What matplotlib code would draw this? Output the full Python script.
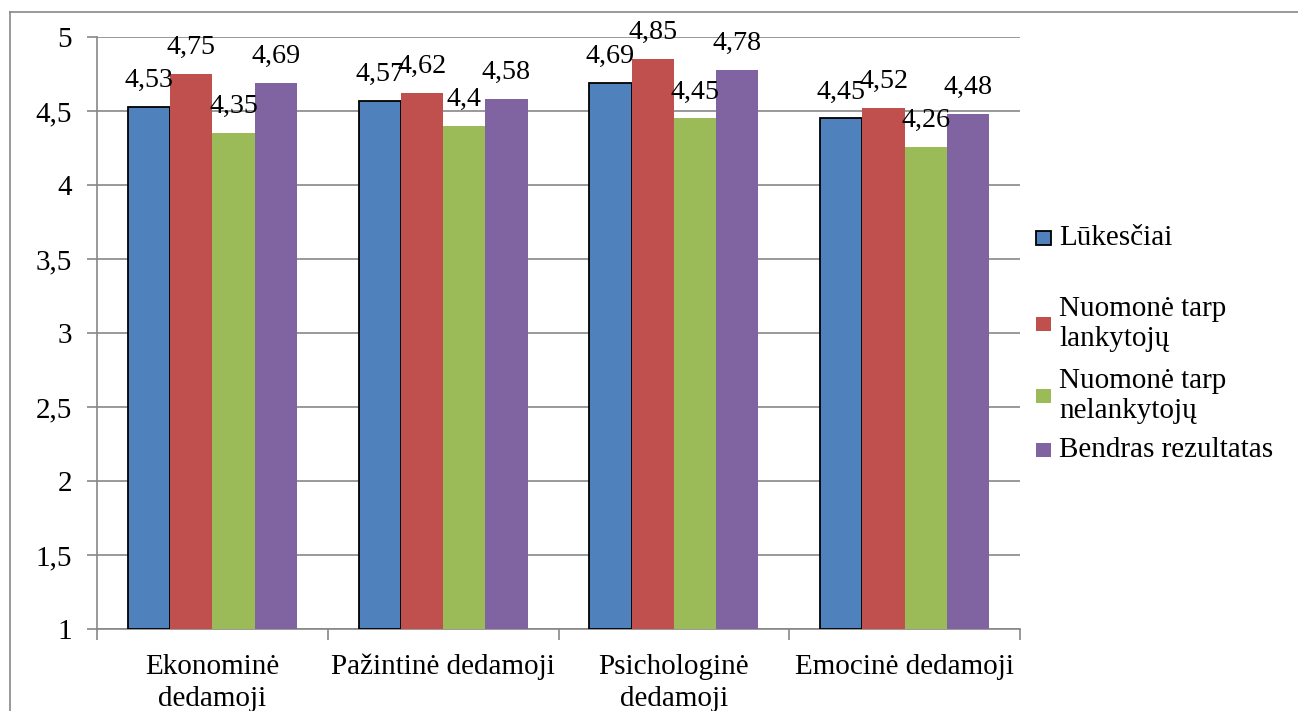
import matplotlib
matplotlib.use("Agg")
import matplotlib.pyplot as plt
from matplotlib.patches import Rectangle
from matplotlib.lines import Line2D
import numpy as np

plt.rcParams['font.family'] = ['Liberation Serif', 'DejaVu Serif']

categories = ["Ekonominė\ndedamoji", "Pažintinė dedamoji",
              "Psichologinė\ndedamoji", "Emocinė dedamoji"]
series_names = ["Lūkesčiai", "Nuomonė tarp\nlankytojų",
                "Nuomonė tarp\nnelankytojų", "Bendras rezultatas"]
lukesciai = [4.53, 4.57, 4.69, 4.45]
lankytoju = [4.75, 4.62, 4.85, 4.52]
nelankytoju = [4.35, 4.40, 4.45, 4.26]
bendras = [4.69, 4.58, 4.78, 4.48]
values = [lukesciai, lankytoju, nelankytoju, bendras]
colors = ["#4F81BD", "#C0504D", "#9BBB59", "#8064A2"]

W, H = 1298, 711
fig = plt.figure(figsize=(W / 100, H / 100), dpi=100)
ax = fig.add_axes([97 / W, 1 - 629 / H, (1020 - 97) / W, (629 - 37) / H])

fs = 21
grid_c = "#878787"
bw = 0.183
x = np.arange(len(categories))

for j, (vals, c) in enumerate(zip(values, colors)):
    pos = x + (j - 1.5) * bw
    if j == 0:
        bars = ax.bar(pos, np.array(vals) - 1, bw, bottom=1, color=c,
                      edgecolor="black", linewidth=1.3, zorder=3)
    else:
        bars = ax.bar(pos, np.array(vals) - 1, bw, bottom=1, color=c,
                      linewidth=0, zorder=3)
    for p, v in zip(pos, vals):
        lab = ("%g" % v).replace(".", ",")
        ax.annotate(lab, (p, v), xytext=(0, 10), textcoords="offset points",
                    ha="center", va="bottom", fontsize=20.2, zorder=5)

ax.set_xlim(-0.5, len(categories) - 0.5)
ax.set_ylim(1, 5)
ax.set_yticks(np.arange(1, 5.01, 0.5))
ax.set_yticklabels([("%g" % t).replace(".", ",") for t in np.arange(1, 5.01, 0.5)],
                   fontsize=fs)
ax.yaxis.grid(True, color=grid_c, linewidth=1.2, zorder=0)
ax.set_axisbelow(True)

# category boundaries as major ticks, names on minor ticks
ax.set_xticks(np.arange(-0.5, len(categories), 1.0))
ax.set_xticklabels([])
ax.set_xticks(x, minor=True)
ax.set_xticklabels(categories, minor=True, fontsize=fs, linespacing=1.3)
ax.tick_params(axis="x", which="major", length=8, color=grid_c, width=1.2, direction="out")
ax.tick_params(axis="x", which="minor", length=0, pad=18)
ax.tick_params(axis="y", length=7, color=grid_c, width=1.2, pad=11)

for s in ["top", "right"]:
    ax.spines[s].set_visible(False)
for s in ["left", "bottom"]:
    ax.spines[s].set_color(grid_c)
    ax.spines[s].set_linewidth(1.2)

# legend drawn by hand
leg_y = [238, 324, 396, 450]
for name, c, yy, j in zip(series_names, colors, leg_y, range(4)):
    ec = "black" if j == 0 else "none"
    fig.add_artist(Rectangle(((1036) / W, 1 - (yy + 7) / H), 15 / W, 14 / H,
                             facecolor=c, edgecolor=ec, linewidth=1.3,
                             transform=fig.transFigure))
    fig.text(1059 / W, 1 - yy / H, name, fontsize=fs, va="center", ha="left",
             linespacing=1.2)

# outer chart border
fig.add_artist(Line2D([10 / W, 1.0], [1 - 12 / H] * 2, color=grid_c, linewidth=1.2,
                      transform=fig.transFigure))
fig.add_artist(Line2D([10 / W] * 2, [0, 1 - 12 / H], color=grid_c, linewidth=1.2,
                      transform=fig.transFigure))

fig.savefig("out.png", dpi=100)
